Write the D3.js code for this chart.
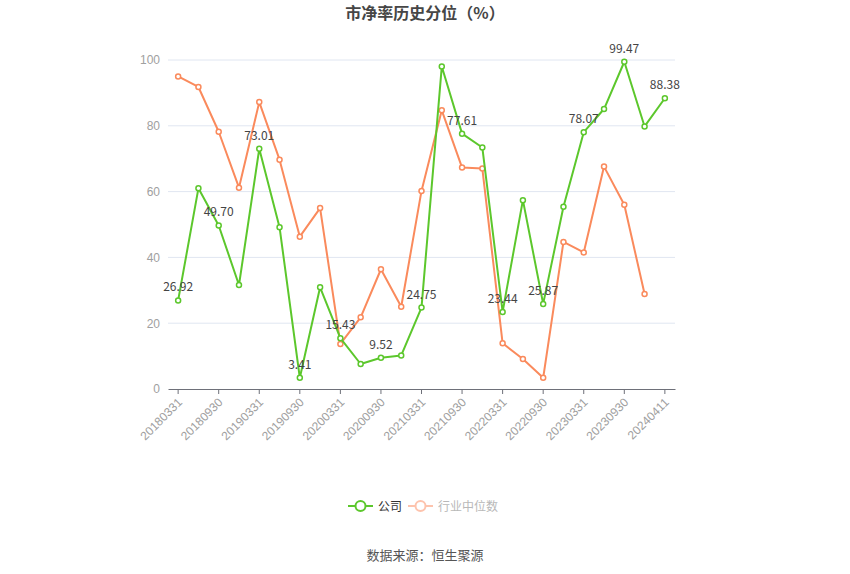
<!DOCTYPE html>
<html>
<head>
<meta charset="utf-8">
<script src="https://cdn.jsdelivr.net/npm/d3@7"></script>
<style>
  body { margin: 0; background: #fff; }
  svg { display: block; font-family: "Noto Sans CJK SC", "Noto Sans", sans-serif; }
</style>
</head>
<body>
<div id="chart"></div>
<script>
// Chart data
const dates = [
  "20180331", "20180630", "20180930", "20181231",
  "20190331", "20190630", "20190930", "20191231",
  "20200331", "20200630", "20200930", "20201231",
  "20210331", "20210630", "20210930", "20211231",
  "20220331", "20220630", "20220930", "20221231",
  "20230331", "20230630", "20230930", "20231231",
  "20240411"
];
const company = [
  26.92, 61.0, 49.70, 31.6, 73.01, 49.2, 3.41, 30.9,
  15.43, 7.6, 9.52, 10.2, 24.75, 98.0, 77.61, 73.4,
  23.44, 57.4, 25.87, 55.4, 78.07, 85.1, 99.47, 79.8,
  88.38
];
const industry = [
  95.0, 91.8, 78.2, 61.2, 87.2, 69.7, 46.3, 55.0,
  13.7, 21.8, 36.4, 25.0, 60.2, 84.7, 67.3, 67.0,
  13.9, 9.1, 3.4, 44.7, 41.5, 67.6, 56.0, 28.9
];
const yTicks = [0, 20, 40, 60, 80, 100];

const W = 850, H = 574;
const margin = { top: 60, right: 175, bottom: 185, left: 168 };
const width = W - margin.left - margin.right,
      height = H - margin.top - margin.bottom;

const colors = {
  company: "#5cc72c",
  industry: "#fa8a5c",
  grid: "#e0e6f1",
  axis: "#6e7079",
  tickText: "#a0a0a0",
  label: "#444"
};

const svg = d3.select("#chart").append("svg")
    .attr("width", W)
    .attr("height", H);

const g = svg.append("g")
    .attr("transform", `translate(${margin.left},${margin.top})`);

const x = d3.scaleBand().domain(dates).range([0, width]);
const y = d3.scaleLinear().domain([0, 100]).range([height, 0]);
const cx = d => x(d) + x.bandwidth() / 2;

// Gridlines
g.selectAll(".grid")
    .data(yTicks.filter(t => t > 0))
  .enter().append("line")
    .attr("x1", 0).attr("x2", width)
    .attr("y1", d => y(d)).attr("y2", d => y(d))
    .attr("stroke", colors.grid);

// Y axis (labels only)
const yAxis = g.append("g")
    .call(d3.axisLeft(y).tickValues(yTicks).tickSize(0).tickPadding(8));
yAxis.select(".domain").remove();
yAxis.selectAll("text")
    .style("font-size", "12px")
    .style("fill", colors.tickText);

// X axis
const xAxis = g.append("g")
    .attr("transform", `translate(0,${height})`)
    .call(d3.axisBottom(x)
      .tickValues(dates.filter((d, i) => i % 2 === 0))
      .tickSize(5)
      .tickSizeOuter(0));
xAxis.select(".domain").attr("stroke", colors.axis);
xAxis.selectAll(".tick line").attr("stroke", colors.axis);
xAxis.selectAll("text")
    .style("text-anchor", "end")
    .style("font-size", "12px")
    .style("fill", colors.tickText)
    .attr("dx", "-0.55em")
    .attr("dy", "0.45em")
    .attr("transform", "rotate(-45)");

// Lines
const line = d3.line()
    .x((d, i) => cx(dates[i]))
    .y(d => y(d));

function drawSeries(values, color) {
  g.append("path")
      .datum(values)
      .attr("fill", "none")
      .attr("stroke", color)
      .attr("stroke-width", 2)
      .attr("stroke-linejoin", "round")
      .attr("d", line);
  g.selectAll(null)
      .data(values)
    .enter().append("circle")
      .attr("cx", (d, i) => cx(dates[i]))
      .attr("cy", d => y(d))
      .attr("r", 2.5)
      .attr("fill", "#fff")
      .attr("stroke", color)
      .attr("stroke-width", 1.5);
}
drawSeries(industry, colors.industry);
drawSeries(company, colors.company);

// Value labels on every other company point
g.selectAll(".vlabel")
    .data(company.map((v, i) => ({ v, i })).filter(d => d.i % 2 === 0))
  .enter().append("text")
    .attr("x", d => cx(dates[d.i]))
    .attr("y", d => y(d.v) - 9)
    .attr("text-anchor", "middle")
    .style("font-size", "12px")
    .style("fill", colors.label)
    .text(d => d.v.toFixed(2));

// Title
svg.append("text")
    .attr("x", W / 2)
    .attr("y", 19)
    .attr("text-anchor", "middle")
    .style("font-size", "16px")
    .style("font-weight", "bold")
    .style("fill", "#464646")
    .text("市净率历史分位（%）");

// Legend
const legend = svg.append("g").attr("transform", "translate(348,506)");
const items = [
  { name: "公司", color: colors.company, text: "#333", x: 0 },
  { name: "行业中位数", color: "#fdc3ad", text: "#b8b8b8", x: 60 }
];
items.forEach(it => {
  const lg = legend.append("g").attr("transform", `translate(${it.x},0)`);
  lg.append("line").attr("x1", 0).attr("x2", 25)
      .attr("stroke", it.color).attr("stroke-width", 2);
  lg.append("circle").attr("cx", 12.5).attr("r", 5)
      .attr("fill", "#fff").attr("stroke", it.color).attr("stroke-width", 2);
  lg.append("text").attr("x", 30).attr("y", 4.5)
      .style("font-size", "12px").style("fill", it.text)
      .text(it.name);
});

// Source
svg.append("text")
    .attr("x", W / 2)
    .attr("y", 560)
    .attr("text-anchor", "middle")
    .style("font-size", "13px")
    .style("fill", "#555")
    .text("数据来源：恒生聚源");
</script>
</body>
</html>
